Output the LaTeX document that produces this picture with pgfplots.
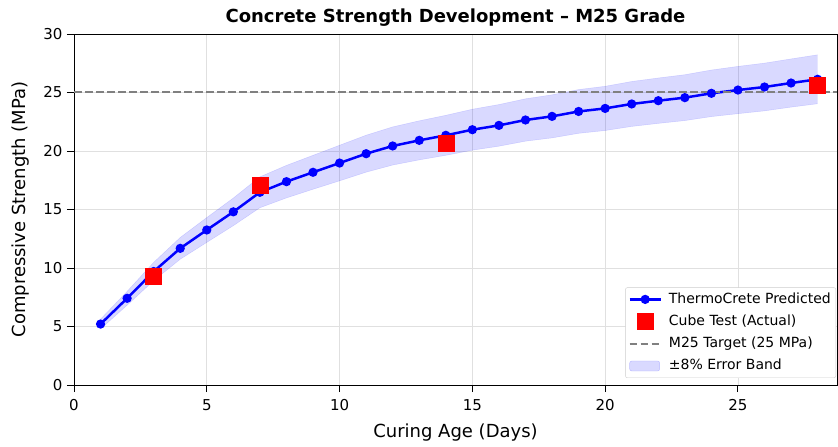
\documentclass[border=0pt]{standalone}
\usepackage{pgfplots}
\pgfplotsset{compat=1.18}
\usepackage{pgfplotstable}
\usepgfplotslibrary{fillbetween}
\usepackage{fontspec}
\setmainfont{DejaVu Sans}
\pgfplotstableread{
day pred up lo
1 5.21 5.63 4.79
2 7.41 8.00 6.82
3 9.70 10.48 8.92
4 11.68 12.61 10.75
5 13.25 14.31 12.19
6 14.80 15.98 13.62
7 16.47 17.79 15.15
8 17.38 18.77 15.99
9 18.18 19.63 16.73
10 18.97 20.49 17.45
11 19.77 21.35 18.19
12 20.43 22.06 18.80
13 20.91 22.58 19.24
14 21.34 23.05 19.63
15 21.82 23.57 20.07
16 22.19 23.97 20.41
17 22.65 24.46 20.84
18 22.96 24.80 21.12
19 23.38 25.25 21.51
20 23.64 25.53 21.75
21 24.02 25.94 22.10
22 24.30 26.24 22.36
23 24.56 26.52 22.60
24 24.93 26.92 22.94
25 25.21 27.23 23.19
26 25.47 27.51 23.43
27 25.81 27.87 23.75
28 26.13 28.22 24.04
}\pred
\pgfplotstableread{
day val
3 9.3
7 17.1
14 20.65
28 25.6
}\cube
\pgfplotsset{
  markleg/.style={legend image code/.code={\draw[mark repeat=2,mark phase=2,##1] plot coordinates {(0pt,0pt) (15.5pt,0pt) (31pt,0pt)};}},
  dashleg/.style={legend image code/.code={\draw[##1] (0pt,0pt) -- (31pt,0pt);}},
}
\begin{document}
\begin{tikzpicture}
\begin{axis}[
  scale only axis,
  width=763pt, height=351pt,
  xmin=0, xmax=28.73, ymin=0, ymax=30,
  xtick={0,5,10,15,20,25}, ytick={0,5,10,15,20,25,30},
  tick align=outside, tick pos=left,
  major tick length=7pt,
  tick style={line width=0.9pt, black},
  grid=major,
  grid style={black!12, line width=0.8pt},
  axis line style={line width=0.9pt},
  /pgf/number format/assume math mode=true,
  ticklabel style={font=\fontsize{15}{17}\selectfont},
  xticklabel style={yshift=-4pt},
  yticklabel style={xshift=-1pt},
  title={\textbf{Concrete Strength Development – M25 Grade}},
  title style={font=\fontsize{18}{20}\selectfont, at={([yshift=10pt]rel axis cs:0.5,1)}, anchor=center, yshift=0pt},
  xlabel={Curing Age (Days)},
  ylabel={Compressive Strength (MPa)},
  label style={font=\fontsize{18}{20}\selectfont},
  xlabel style={at={([yshift=-48pt]rel axis cs:0.5,0)}, anchor=center},
  ylabel style={at={([xshift=-53pt]rel axis cs:0,0.5)}, anchor=center},
  legend style={at={(rel axis cs:1,0)}, anchor=south east, xshift=-1pt, yshift=7pt,
    font=\fontsize{14}{16}\selectfont, draw=black!20, fill=white, rounded corners=2pt,
    row sep=0pt, inner xsep=3pt, inner ysep=0.7pt,
    nodes={inner ysep=4.2pt, text height=10.5pt, text depth=3.3pt},
    /tikz/every odd column/.append style={column sep=5pt}},
  legend cell align=left,
]
\addplot[name path=up, draw=blue, draw opacity=0.15, forget plot] table[x=day, y=up] {\pred};
\addplot[name path=lo, draw=blue, draw opacity=0.15, forget plot] table[x=day, y=lo] {\pred};
\addplot[fill=blue, fill opacity=0.15, draw=none, forget plot] fill between[of=up and lo];
\addplot[blue, line width=2.5pt, mark=*, mark size=3.3pt, mark options={solid}, markleg]
  table[x=day, y=pred] {\pred};
\addlegendentry{ThermoCrete Predicted}
\addplot[only marks, mark=square*, mark size=8pt, red, mark options={fill=red, draw=red}, markleg]
  table[x=day, y=val] {\cube};
\addlegendentry{Cube Test (Actual)}
\addplot[gray, line width=2pt, dash pattern=on 7.7pt off 3.3pt, dashleg]
  coordinates {(0,25) (28.73,25)};
\addlegendentry{M25 Target (25 MPa)}
\addlegendimage{legend image code/.code={\draw[fill=blue, fill opacity=0.15, draw=blue, draw opacity=0.2] (0pt,-5pt) rectangle (30pt,5pt);}}
\addlegendentry{±8\% Error Band}
\coordinate (bl) at (rel axis cs:0,0);
\coordinate (tr) at (rel axis cs:1,1);
\end{axis}
\pgfresetboundingbox
\path ([xshift=-74pt,yshift=-62pt]bl) rectangle ([xshift=1pt,yshift=34pt]tr);
\end{tikzpicture}
\end{document}
